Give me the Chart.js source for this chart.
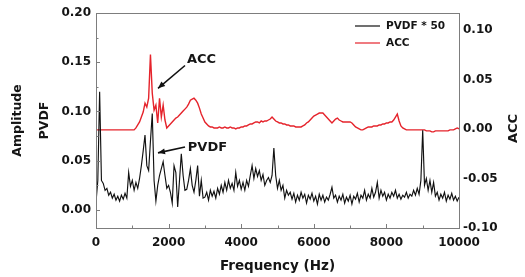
<!DOCTYPE html>
<html><head><meta charset="utf-8">
<script src="https://cdn.jsdelivr.net/npm/chart.js@4/dist/chart.umd.min.js"></script>
<style>html,body{margin:0;padding:0;background:#fff}#wrap{width:525px;height:277px}</style>
</head><body><div id="wrap"><canvas id="c" width="525" height="277"></canvas></div>
<script>
// sampling grid of the spectra (Hz between samples)
const freqStep = 50;
// PVDF amplitude * 50 (left axis), samples at 0, 50, 100 ... 10000 Hz
const pvdf = [
0.008,0.030,0.120,0.030,0.027,0.020,0.022,0.015,0.018,0.012,0.016,0.010,0.014,0.009,0.015,0.011,0.017,0.012,0.038,0.024,
0.030,0.020,0.028,0.022,0.032,0.045,0.060,0.076,0.045,0.040,0.070,0.098,0.030,0.009,0.025,0.035,0.042,0.049,0.035,0.022,
0.025,0.018,0.007,0.045,0.038,0.003,0.030,0.057,0.035,0.020,0.021,0.030,0.042,0.025,0.018,0.030,0.045,0.014,0.030,0.012,
0.013,0.018,0.010,0.020,0.014,0.019,0.012,0.022,0.016,0.025,0.018,0.028,0.020,0.030,0.022,0.027,0.020,0.038,0.024,0.030,
0.021,0.028,0.020,0.030,0.024,0.035,0.045,0.032,0.042,0.034,0.040,0.030,0.036,0.025,0.030,0.033,0.028,0.035,0.063,0.035,
0.022,0.030,0.020,0.025,0.012,0.020,0.015,0.018,0.011,0.017,0.008,0.015,0.010,0.018,0.012,0.016,0.007,0.015,0.011,0.017,
0.009,0.014,0.006,0.016,0.010,0.015,0.008,0.013,0.010,0.016,0.023,0.012,0.015,0.008,0.014,0.010,0.016,0.007,0.013,0.009,
0.015,0.006,0.014,0.011,0.017,0.008,0.015,0.012,0.020,0.010,0.016,0.012,0.022,0.013,0.018,0.028,0.012,0.020,0.014,0.018,
0.010,0.016,0.012,0.018,0.014,0.020,0.012,0.016,0.011,0.015,0.013,0.018,0.012,0.016,0.014,0.020,0.015,0.022,0.016,0.030,
0.081,0.025,0.032,0.020,0.030,0.018,0.028,0.014,0.018,0.010,0.016,0.012,0.018,0.009,0.015,0.011,0.017,0.010,0.014,0.009,
0.013];
// ACC amplitude (right axis), same sampling grid
const acc = [
-0.001,-0.001,-0.001,-0.001,-0.001,-0.001,-0.001,-0.001,-0.001,-0.001,-0.001,-0.001,-0.001,-0.001,-0.001,-0.001,-0.001,-0.001,-0.001,-0.001,
-0.001,-0.001,0.001,0.004,0.007,0.012,0.017,0.026,0.022,0.031,0.075,0.036,0.019,0.024,0.006,0.031,0.012,0.024,0.009,0.001,
0.003,0.005,0.007,0.009,0.011,0.012,0.014,0.016,0.018,0.020,0.022,0.025,0.029,0.030,0.031,0.029,0.026,0.021,0.015,0.011,
0.007,0.005,0.003,0.002,0.002,0.001,0.001,0.001,0.002,0.001,0.001,0.002,0.001,0.001,0.002,0.001,0.001,0.000,0.001,0.001,
0.002,0.002,0.003,0.003,0.004,0.005,0.005,0.006,0.007,0.007,0.006,0.008,0.007,0.008,0.008,0.009,0.010,0.012,0.010,0.008,
0.007,0.006,0.006,0.005,0.005,0.004,0.004,0.003,0.003,0.003,0.002,0.002,0.002,0.002,0.003,0.004,0.006,0.007,0.009,0.011,
0.013,0.014,0.015,0.016,0.016,0.016,0.014,0.012,0.010,0.008,0.006,0.008,0.010,0.011,0.009,0.008,0.007,0.007,0.007,0.007,
0.007,0.006,0.004,0.002,0.001,0.000,-0.001,-0.001,0.000,0.001,0.002,0.002,0.002,0.003,0.003,0.003,0.004,0.004,0.005,0.005,
0.006,0.006,0.007,0.007,0.009,0.012,0.015,0.008,0.003,0.001,0.000,-0.001,-0.001,-0.001,-0.001,-0.001,-0.001,-0.001,-0.001,-0.001,
-0.001,-0.001,-0.002,-0.002,-0.002,-0.003,-0.003,-0.002,-0.002,-0.002,-0.002,-0.002,-0.002,-0.002,-0.002,-0.001,-0.001,-0.001,0.000,0.001,
0.000];
const seriesNames = ['PVDF * 50', 'ACC'];
const xTicks = [0, 2000, 4000, 6000, 8000, 10000];
const xMinorTicks = [1000, 3000, 5000, 7000, 9000];
const leftTicks = [0, 0.05, 0.10, 0.15, 0.20];
const leftMinorTicks = [0.025, 0.075, 0.125, 0.175];
const rightTicks = [-0.10, -0.05, 0, 0.05, 0.10];
const xTitle = 'Frequency (Hz)';
const leftTitle = ['Amplitude', 'PVDF'];
const rightTitle = 'ACC';

const FONT = 'DejaVu Sans';
const TXT = '#151515';
const RED = '#e5232b';
Chart.defaults.font.family = FONT;

const framePlugin = {
  id: 'frame',
  afterDatasetsDraw(chart) {
    const {ctx, chartArea: a, scales} = chart;
    ctx.save();
    ctx.strokeStyle = '#7d7d7d';
    ctx.lineWidth = 1;
    ctx.strokeRect(Math.round(a.left) + 0.5, Math.round(a.top) + 0.5, Math.round(a.right - a.left), Math.round(a.bottom - a.top));
    ctx.beginPath();
    xTicks.forEach(v => { const x = Math.round(scales.x.getPixelForValue(v)) + 0.5; ctx.moveTo(x, a.bottom); ctx.lineTo(x, a.bottom - 4); });
    xMinorTicks.forEach(v => { const x = Math.round(scales.x.getPixelForValue(v)) + 0.5; ctx.moveTo(x, a.bottom); ctx.lineTo(x, a.bottom - 2.5); });
    leftTicks.forEach(v => { const y = Math.round(scales.y.getPixelForValue(v)) + 0.5; ctx.moveTo(a.left, y); ctx.lineTo(a.left + 4, y); });
    leftMinorTicks.forEach(v => { const y = Math.round(scales.y.getPixelForValue(v)) + 0.5; ctx.moveTo(a.left, y); ctx.lineTo(a.left + 2.5, y); });
    ctx.stroke();
    ctx.restore();
  },
  afterDraw(chart) {
    const {ctx, chartArea: a, scales} = chart;
    ctx.save();
    // right axis title (reads bottom to top)
    ctx.fillStyle = TXT;
    ctx.font = 'bold 13px "' + FONT + '"';
    ctx.textAlign = 'center';
    ctx.textBaseline = 'middle';
    ctx.translate(scales.y1.right - 11, (a.top + a.bottom) / 2 + 8);
    ctx.rotate(-Math.PI / 2);
    ctx.fillText(rightTitle, 0, 0);
    ctx.restore();

    // legend
    ctx.save();
    ctx.font = 'bold 10.5px "' + FONT + '"';
    ctx.textAlign = 'left';
    ctx.textBaseline = 'middle';
    const colors = [chart.data.datasets[0].borderColor, chart.data.datasets[1].borderColor];
    seriesNames.forEach((name, i) => {
      const y = a.top + 13 + i * 17;
      ctx.strokeStyle = colors[i];
      ctx.lineWidth = 1.2;
      ctx.beginPath(); ctx.moveTo(a.right - 104, y); ctx.lineTo(a.right - 79, y); ctx.stroke();
      ctx.fillStyle = TXT;
      ctx.fillText(name, a.right - 73, y);
    });
    ctx.restore();

    // annotations with arrows
    const arrow = (x1, y1, x2, y2) => {
      ctx.beginPath(); ctx.moveTo(x1, y1); ctx.lineTo(x2, y2); ctx.stroke();
      const ang = Math.atan2(y2 - y1, x2 - x1), L = 7, W = 3;
      ctx.beginPath();
      ctx.moveTo(x2, y2);
      ctx.lineTo(x2 - L * Math.cos(ang) + W * Math.sin(ang), y2 - L * Math.sin(ang) - W * Math.cos(ang));
      ctx.lineTo(x2 - L * Math.cos(ang) - W * Math.sin(ang), y2 - L * Math.sin(ang) + W * Math.cos(ang));
      ctx.closePath(); ctx.fill();
    };
    ctx.save();
    ctx.strokeStyle = '#111'; ctx.fillStyle = '#111'; ctx.lineWidth = 1.6;
    const X = v => scales.x.getPixelForValue(v);
    const YL = v => scales.y.getPixelForValue(v);
    const YR = v => scales.y1.getPixelForValue(v);
    arrow(X(2452), YR(0.064), X(1708), YR(0.041));
    arrow(X(2452), YL(0.064), X(1708), YL(0.058));
    ctx.fillStyle = TXT;
    ctx.font = 'bold 13px "' + FONT + '"';
    ctx.textAlign = 'left'; ctx.textBaseline = 'middle';
    ctx.fillText('ACC', X(2507), YR(0.070));
    ctx.fillText('PVDF', X(2530), YL(0.063));
    ctx.restore();
  }
};

const tickFont = {size: 12, weight: 'bold'};
new Chart(document.getElementById('c'), {
  type: 'line',
  data: {
    datasets: [
      {label: seriesNames[0], data: pvdf.map((v, i) => ({x: i * freqStep, y: v})), yAxisID: 'y',
       borderColor: '#111111', borderWidth: 1.15, pointRadius: 0, tension: 0},
      {label: seriesNames[1], data: acc.map((v, i) => ({x: i * freqStep, y: v})), yAxisID: 'y1',
       borderColor: RED, borderWidth: 1.4, pointRadius: 0, tension: 0}
    ]
  },
  options: {
    responsive: false, animation: false, devicePixelRatio: 1,
    layout: {padding: {top: 13, left: 0, right: 0, bottom: 0}},
    plugins: {legend: {display: false}, tooltip: {enabled: false}},
    scales: {
      x: {
        type: 'linear', min: 0, max: 10000,
        afterBuildTicks: s => { s.ticks = xTicks.map(v => ({value: v})); },
        grid: {display: false, drawTicks: false}, border: {display: false},
        ticks: {padding: 8, font: tickFont, color: TXT, maxRotation: 0, autoSkip: false, callback: v => String(v)},
        title: {display: true, text: xTitle, font: {size: 13.5, weight: 'bold'}, color: TXT, padding: {top: 0, bottom: 2}},
        afterFit: s => { s.height = 49; }
      },
      y: {
        position: 'left', min: -0.0183, max: 0.20,
        afterBuildTicks: s => { s.ticks = leftTicks.map(v => ({value: v})); },
        grid: {display: false, drawTicks: false}, border: {display: false},
        ticks: {padding: 5, font: tickFont, color: TXT, autoSkip: false, callback: v => v.toFixed(2)},
        title: {display: true, text: leftTitle, font: {size: 12.5, weight: 'bold', lineHeight: '27px'}, color: TXT, padding: {top: 4.5, bottom: 0}},
        afterFit: s => { s.width = 96; }
      },
      y1: {
        position: 'right', min: -0.10, max: 0.117,
        afterBuildTicks: s => { s.ticks = rightTicks.map(v => ({value: v})); },
        grid: {display: false, drawTicks: false}, border: {display: false},
        ticks: {padding: 4, font: tickFont, color: TXT, autoSkip: false, callback: v => v.toFixed(2)},
        afterFit: s => { s.width = 66; }
      }
    }
  },
  plugins: [framePlugin]
});
</script></body></html>
